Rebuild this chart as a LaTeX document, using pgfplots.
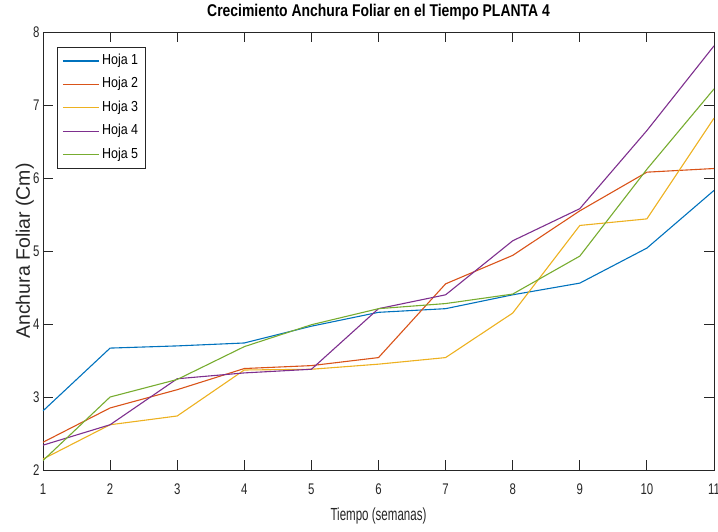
\documentclass[border=0pt]{standalone}
\usepackage{fontspec}
\usepackage{pgfplots}
\pgfplotsset{compat=1.18}
\setmainfont{Liberation Sans}
\newfontfamily\tickfam{Liberation Sans}[FakeStretch=0.74]
\newfontfamily\xlabfam{Liberation Sans}[FakeStretch=0.66]
\newfontfamily\titlefam{Liberation Sans}[FakeStretch=0.82]
\newfontfamily\legfam{Liberation Sans}[FakeStretch=0.86]
\newfontfamily\ylabfam{Liberation Sans}
\definecolor{c1}{rgb}{0,0.447,0.741}
\definecolor{c2}{rgb}{0.85,0.325,0.098}
\definecolor{c3}{rgb}{0.929,0.694,0.125}
\definecolor{c4}{rgb}{0.494,0.184,0.556}
\definecolor{c5}{rgb}{0.466,0.674,0.188}
\definecolor{axc}{rgb}{0.15,0.15,0.15}
\pgfplotstableread{
x h1 h2 h3 h4 h5
1 2.81 2.38 2.15 2.34 2.13
2 3.67 2.85 2.62 2.62 3.00
3 3.70 3.10 2.74 3.25 3.24
4 3.74 3.39 3.37 3.33 3.69
5 3.97 3.43 3.38 3.38 3.99
6 4.16 3.54 3.45 4.21 4.21
7 4.21 4.55 3.54 4.40 4.28
8 4.40 4.94 4.15 5.14 4.41
9 4.56 5.55 5.35 5.58 4.93
10 5.04 6.08 5.44 6.65 6.12
11 5.83 6.13 6.82 7.81 7.22
}\datatable
\begin{document}
\begin{tikzpicture}
\begin{axis}[
  scale only axis, width=671pt, height=438pt,
  xmin=1, xmax=11, ymin=2, ymax=8,
  xtick={1,...,11}, ytick={2,...,8},
  tick align=inside, tick pos=both,
  major tick length=10pt,
  axis line style={axc, line width=0.9pt},
  every tick/.style={axc, line width=0.9pt},
  /pgf/number format/assume math mode=true,
  xticklabel style={font=\tickfam\fontsize{15.4pt}{17pt}\selectfont, yshift=-10pt, text=axc},
  yticklabel style={font=\tickfam\fontsize{15.4pt}{17pt}\selectfont, text=axc},
  xlabel={Tiempo (semanas)},
  xlabel style={font=\xlabfam\fontsize{17.5pt}{19pt}\selectfont, at={(axis description cs:0.5,-0.105)}, anchor=center, text=axc},
  ylabel={Anchura Foliar (Cm)},
  ylabel style={font=\ylabfam\fontsize{19.5pt}{22pt}\selectfont, at={(axis description cs:-0.027,0.5)}, anchor=center, text=axc},
  title={Crecimiento Anchura Foliar en el Tiempo PLANTA 4},
  title style={font=\titlefam\bfseries\fontsize{17pt}{19pt}\selectfont, at={(axis description cs:0.5,1.0215)}, anchor=base},
  legend style={at={(axis description cs:0.0209,0.9658)}, anchor=north west,
    draw=axc, line width=0.7pt, fill=white,
    font=\legfam\fontsize{14.5pt}{16pt}\selectfont,
    inner xsep=5pt, inner ysep=2pt,
    nodes={inner xsep=2.5pt, inner ysep=3.2pt, text height=12pt, text depth=5pt}},
  legend cell align=left,
  legend image code/.code={\draw[#1, line width=1.2pt] (0pt,0pt) -- (36pt,0pt);},
  every axis plot/.append style={line width=1.1pt},
]
\addplot[c1] table[x=x, y=h1] {\datatable};
\addplot[c2] table[x=x, y=h2] {\datatable};
\addplot[c3] table[x=x, y=h3] {\datatable};
\addplot[c4] table[x=x, y=h4] {\datatable};
\addplot[c5] table[x=x, y=h5] {\datatable};
\legend{Hoja 1, Hoja 2, Hoja 3, Hoja 4, Hoja 5}
\end{axis}
\pgfresetboundingbox
\path[use as bounding box] (-43pt,-61pt) rectangle (675pt,470pt);
\end{tikzpicture}
\end{document}
